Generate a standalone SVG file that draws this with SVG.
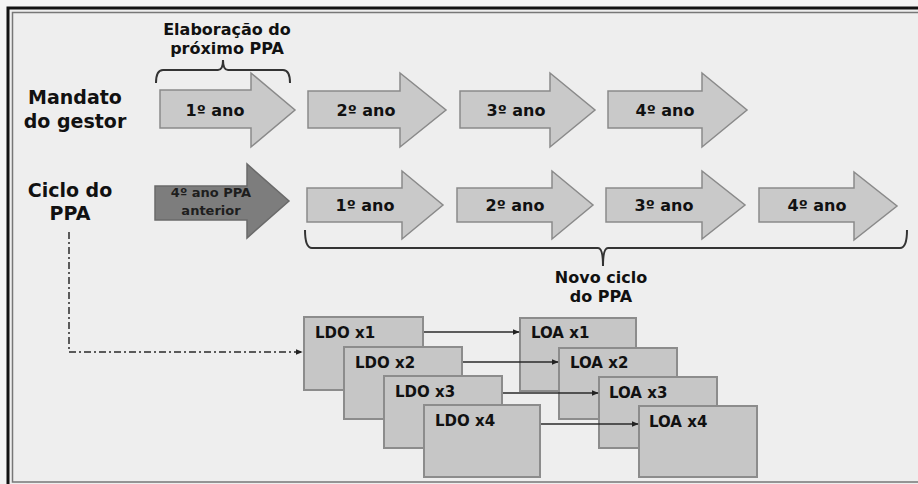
<svg xmlns="http://www.w3.org/2000/svg" width="918" height="484" viewBox="0 0 918 484">
<defs>
<style>
text{font-family:"DejaVu Sans","Verdana",sans-serif;font-weight:bold;fill:#111}
.lab{font-size:19px;text-anchor:middle}
.cap{font-size:16px;text-anchor:middle}
.yr{font-size:16px;text-anchor:middle}
.sm{font-size:13px;text-anchor:middle;fill:#1e1e1e}
.bx{font-size:15px}
.arw{fill:#c9c9c9;stroke:#8a8a8a;stroke-width:1.5}
.dark{fill:#7d7d7d;stroke:#6a6a6a;stroke-width:1.5}
.box{fill:#c6c6c6;stroke:#8c8c8c;stroke-width:2}
.brace{fill:none;stroke:#333;stroke-width:2}
.con{fill:none;stroke:#2a2a2a;stroke-width:1.5}
</style>
<marker id="ah" viewBox="0 0 10 10" refX="9" refY="5" markerWidth="7" markerHeight="7" markerUnits="userSpaceOnUse" orient="auto">
<path d="M0 1 L10 5 L0 9 Z" fill="#222"/>
</marker>
</defs>
<rect x="0" y="0" width="918" height="484" fill="#f3f3f3"/>
<rect x="8" y="8" width="910" height="476" fill="#eeeeee"/>
<path d="M918 8 H8 V484" fill="none" stroke="#111" stroke-width="3"/>
<path d="M918 12.5 H12.5 V482 H918" fill="none" stroke="#777" stroke-width="1.5"/>

<g id="row-labels">
<text class="lab" x="75" y="104">Mandato</text>
<text class="lab" x="75" y="128">do gestor</text>
<text class="lab" x="70" y="197">Ciclo do</text>
<text class="lab" x="70" y="220">PPA</text>
</g>

<g id="elab-label">
<text class="cap" x="227" y="35">Elaboração do</text>
<text class="cap" x="227" y="54">próximo PPA</text>
<path class="brace" d="M156 83 Q156 70 163 70 H218 Q223 70 223 60 Q223 70 228 70 H283 Q290 70 290 83"/>
</g>

<g id="m1"><path class="arw" d="M160 90 H251 V73 L295 110 L251 147 V128 H160 Z"/><text class="yr" x="215" y="116">1º ano</text></g>
<g id="m2"><path class="arw" d="M308 91 H400 V73 L446 110 L400 147 V128 H308 Z"/><text class="yr" x="366" y="116">2º ano</text></g>
<g id="m3"><path class="arw" d="M460 91 H550 V73 L595 110 L550 147 V128 H460 Z"/><text class="yr" x="516" y="116">3º ano</text></g>
<g id="m4"><path class="arw" d="M608 91 H702 V73 L747 110 L702 147 V128 H608 Z"/><text class="yr" x="665" y="116">4º ano</text></g>

<g id="p0"><path class="dark" d="M155 186 H247 V164 L289 201 L247 238 V220 H155 Z"/><text class="sm" x="211" y="197">4º ano PPA</text><text class="sm" x="211" y="215">anterior</text></g>
<g id="p1"><path class="arw" d="M307 188 H402 V171 L443 205 L402 239 V222 H307 Z"/><text class="yr" x="365" y="211">1º ano</text></g>
<g id="p2"><path class="arw" d="M457 188 H552 V171 L593 205 L552 239 V222 H457 Z"/><text class="yr" x="515" y="211">2º ano</text></g>
<g id="p3"><path class="arw" d="M606 188 H702 V171 L745 205 L702 239 V222 H606 Z"/><text class="yr" x="664" y="211">3º ano</text></g>
<g id="p4"><path class="arw" d="M759 188 H854 V172 L897 206 L854 240 V222 H759 Z"/><text class="yr" x="817" y="211">4º ano</text></g>

<g id="novo-label">
<path class="brace" d="M305 230 Q305 248 312 248 H598 Q603 248 603 266 Q603 248 608 248 H900 Q907 248 907 230"/>
<text class="cap" x="601" y="283">Novo ciclo</text>
<text class="cap" x="601" y="302">do PPA</text>
</g>

<g id="ldo1"><rect class="box" x="304" y="317" width="119" height="73"/><text class="bx" x="315" y="338">LDO x1</text></g>
<g id="ldo2"><rect class="box" x="344" y="347" width="118" height="72"/><text class="bx" x="355" y="368">LDO x2</text></g>
<g id="ldo3"><rect class="box" x="384" y="376" width="118" height="72"/><text class="bx" x="395" y="397">LDO x3</text></g>
<g id="ldo4"><rect class="box" x="424" y="405" width="116" height="72"/><text class="bx" x="435" y="426">LDO x4</text></g>

<g id="loa1"><rect class="box" x="520" y="318" width="116" height="73"/><text class="bx" x="531" y="338">LOA x1</text></g>
<g id="loa2"><rect class="box" x="559" y="348" width="118" height="71"/><text class="bx" x="570" y="368">LOA x2</text></g>
<g id="loa3"><rect class="box" x="599" y="377" width="118" height="71"/><text class="bx" x="609" y="398">LOA x3</text></g>
<g id="loa4"><rect class="box" x="639" y="406" width="118" height="71"/><text class="bx" x="649" y="427">LOA x4</text></g>

<g id="connectors">
<path class="con" d="M69 232 V352 H302" stroke-dasharray="7 3 2 3" stroke-width="2" marker-end="url(#ah)"/>
<path class="con" d="M424 332 H519" marker-end="url(#ah)"/>
<path class="con" d="M463 362 H558" marker-end="url(#ah)"/>
<path class="con" d="M503 393 H598" marker-end="url(#ah)"/>
<path class="con" d="M541 424 H638" marker-end="url(#ah)"/>
</g>
</svg>
